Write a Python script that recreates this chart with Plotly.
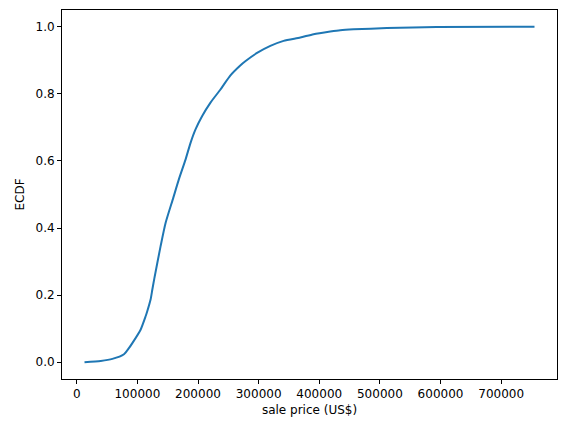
import plotly.graph_objects as go

# ECDF points
sale_price = [12789, 39500, 58800, 77900, 86000, 91700, 105300, 113600, 116300,
              121800, 124600, 128000, 138300, 146500, 159200, 168400, 179400,
              187700, 195900, 206900, 220600, 237000, 253500, 268800, 278000,
              297400, 319300, 341200, 368700, 390600, 418100, 434600, 456500,
              511400, 593700, 755000]
ecdf = [0.0003, 0.004, 0.01, 0.024, 0.042, 0.057, 0.097, 0.137, 0.152,
        0.187, 0.216, 0.25, 0.346, 0.415, 0.49, 0.545, 0.604,
        0.654, 0.694, 0.734, 0.774, 0.813, 0.855, 0.883, 0.897,
        0.922, 0.943, 0.958, 0.968, 0.978, 0.986, 0.990, 0.9925,
        0.996, 0.999, 1.0]

x_ticks = [0, 100000, 200000, 300000, 400000, 500000, 600000, 700000]
y_ticks = [0.0, 0.2, 0.4, 0.6, 0.8, 1.0]

fig = go.Figure()
fig.add_trace(go.Scatter(x=sale_price, y=ecdf, mode="lines",
                         line=dict(color="#1f77b4", width=2, shape="spline", smoothing=0.6),
                         showlegend=False))

font = dict(family="DejaVu Sans", size=12, color="black")
axis_common = dict(showline=True, linecolor="black", linewidth=1, mirror=True,
                   ticks="outside", ticklen=4, tickcolor="black", showgrid=False,
                   zeroline=False, tickfont=font, automargin=False)

fig.update_layout(
    template="none",
    width=567, height=433,
    margin=dict(l=62, r=10, t=10, b=54),
    paper_bgcolor="white", plot_bgcolor="white",
    font=font,
    xaxis=dict(range=[-24321, 792110], tickvals=x_ticks,
               ticktext=[str(v) for v in x_ticks],
               title=dict(text="sale price (US$)", font=font, standoff=5),
               **axis_common),
    yaxis=dict(range=[-0.05, 1.05], tickvals=y_ticks,
               ticktext=[f"{v:.1f}" for v in y_ticks],
               title=dict(text="ECDF", font=font, standoff=8),
               **axis_common),
)

fig.write_html("out.html", config={"displayModeBar": False},
               post_script="document.body.style.margin='0';document.body.style.overflow='hidden';")
